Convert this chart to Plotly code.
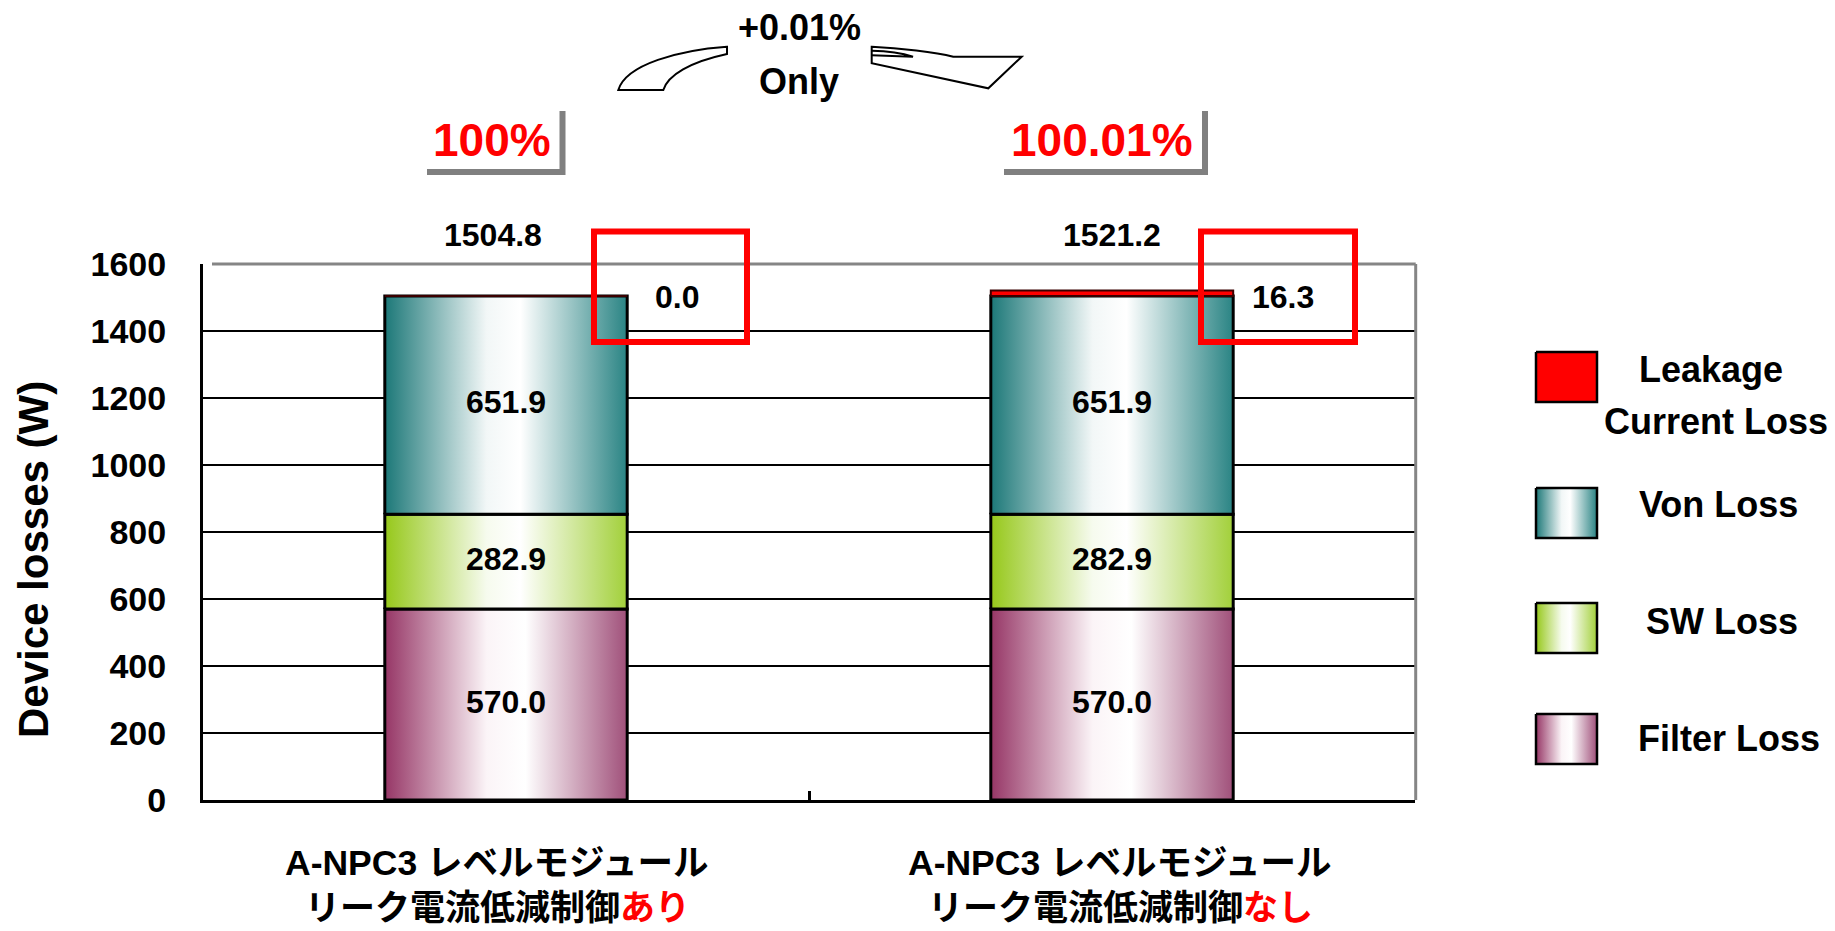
import plotly.graph_objects as go

# ---- data -------------------------------------------------------------
cat_line1 = ["A-NPC3 レベルモジュール", "A-NPC3 レベルモジュール"]
cat_line2 = ["リーク電流低減制御", "リーク電流低減制御"]
cat_flag = ["あり", "なし"]

filter_loss = [570.0, 570.0]
sw_loss = [282.9, 282.9]
von_loss = [651.9, 651.9]
leakage_loss = [0.0, 16.3]
total_labels = [1504.8, 1521.2]
ratio_labels = ["100%", "100.01%"]
diff_label = ["+0.01%", "Only"]

y_ticks = [0, 200, 400, 600, 800, 1000, 1200, 1400, 1600]

# ---- geometry / style -------------------------------------------------
W, H = 1835, 931
PL, PR, PT, PB = 203, 1415, 264, 800       # plot area in pixels
BAR_W = 0.4
FONT = "Liberation Sans, Arial, Noto Sans CJK JP, sans-serif"
RED = "#FF0000"

# horizontal nudges (pixels) of the text blocks above / below each bar
TOTAL_SHIFT = [-13, 0]
RATIO_SHIFT = [-14, -10]
CAT_SHIFT = [-9, 8]


def px(x):
    return x / W


def py(y):
    return 1 - y / H


def note(text, x, y, size, color="black", xref="paper", yref="paper", **kw):
    d = dict(x=x, y=y, xref=xref, yref=yref, text=text, showarrow=False,
             xanchor="center", yanchor="middle",
             font=dict(family=FONT, size=size, color=color))
    d.update(kw)
    return d


von_scale = [[0, "#1C7878"], [0.42, "#F2F7F7"], [0.56, "#FFFFFF"], [1, "#2A8484"]]
sw_scale = [[0, "#96C81A"], [0.42, "#F6FBEE"], [0.56, "#FFFFFF"], [1, "#A2D03A"]]
filter_scale = [[0, "#963666"], [0.42, "#FBF4F7"], [0.58, "#FFFFFF"], [1, "#A0507A"]]

series = [
    ("Filter Loss", filter_loss, filter_scale),
    ("SW Loss", sw_loss, sw_scale),
    ("Von Loss", von_loss, von_scale),
    ("Leakage Current Loss", leakage_loss, None),
]

fig = go.Figure()
annotations = []

# stacked segments drawn as gradient-filled rectangles on the data axes
base = [0.0] * len(filter_loss)
for name, vals, scale in series:
    for i, v in enumerate(vals):
        x0, x1 = i - BAR_W / 2, i + BAR_W / 2
        y0, y1 = base[i], base[i] + v
        tr = dict(
            x=[x0, x1, x1, x0, x0],
            y=[y0, y0, y1, y1, y0],
            mode="lines",
            fill="toself",
            name=name,
            showlegend=False,
            hoverinfo="skip",
        )
        if scale is None:
            tr["fillcolor"] = RED
            tr["line"] = dict(color="#3A0000", width=2)
        else:
            tr["fillgradient"] = dict(type="horizontal", colorscale=scale)
            tr["line"] = dict(color="black", width=3)
            annotations.append(note(f"<b>{v:.1f}</b>", i, (y0 + y1) / 2, 32,
                                    xref="x", yref="y", yshift=3))
        fig.add_trace(go.Scatter(**tr))
        base[i] = y1

# legend swatches on a small helper subplot (pixel units)
legend_items = [
    (["Leakage", "Current Loss"], None, 352, [(1711, 370), (1716, 421)]),
    (["Von Loss"], von_scale, 488, [(1718, 504)]),
    (["SW Loss"], sw_scale, 603, [(1722, 621)]),
    (["Filter Loss"], filter_scale, 714, [(1729, 738)]),
]
SW_X0, SW_X1, SW_H = 1536, 1597, 50
for lines, scale, top, pos in legend_items:
    tr = dict(
        x=[SW_X0, SW_X1, SW_X1, SW_X0, SW_X0],
        y=[top, top, top + SW_H, top + SW_H, top],
        mode="lines", fill="toself", showlegend=False, hoverinfo="skip",
        xaxis="x2", yaxis="y2", line=dict(color="black", width=2.5),
    )
    if scale is None:
        tr["fillcolor"] = RED
    else:
        tr["fillgradient"] = dict(type="horizontal", colorscale=scale)
    fig.add_trace(go.Scatter(**tr))
    for txt, (tx, ty) in zip(lines, pos):
        annotations.append(note(f"<b>{txt}</b>", px(tx), py(ty), 36))

# totals above the bars and the ratio labels
for i, t in enumerate(total_labels):
    annotations.append(note(f"<b>{t:.1f}</b>", i, py(235), 32, xref="x",
                            xshift=TOTAL_SHIFT[i]))
    annotations.append(note(f"<b>{ratio_labels[i]}</b>", i, py(140), 46,
                            color=RED, xref="x", xshift=RATIO_SHIFT[i]))

# leakage value labels beside the bar tops
for i, v in enumerate(leakage_loss):
    annotations.append(note(f"<b>{v:.1f}</b>", i, py(297), 32, xref="x",
                            xshift=171))

# category labels (two lines each)
for i in range(len(cat_line1)):
    annotations.append(note(f"<b>{cat_line1[i]}</b>", i, py(863), 35.5,
                            xref="x", xshift=CAT_SHIFT[i]))
    annotations.append(note(
        f"<b>{cat_line2[i]}<span style='color:{RED}'>{cat_flag[i]}</span></b>",
        i, py(907), 35, xref="x", xshift=CAT_SHIFT[i]))

# difference note between the two bars
for txt, ty in zip(diff_label, [27, 81]):
    annotations.append(note(f"<b>{txt}</b>", px(799), py(ty), 36))

# y-axis title
annotations.append(note("<b>Device losses (W)</b>", px(33), py(560), 42,
                        textangle=-90))


def path(cmds):
    out = []
    for c in cmds:
        if isinstance(c, str):
            out.append(c)
        else:
            out.append(f"{px(c[0]):.5f},{py(c[1]):.5f}")
    return " ".join(out)


shapes = []
# grey top and right frame
shapes.append(dict(type="line", xref="paper", yref="paper",
                   x0=px(PL + 9), x1=px(PR + 0.7), y0=py(PT), y1=py(PT),
                   line=dict(color="#858585", width=3)))
shapes.append(dict(type="line", xref="paper", yref="paper",
                   x0=px(PR + 0.7), x1=px(PR + 0.7), y0=py(PT), y1=py(PB),
                   line=dict(color="#858585", width=3)))

# red highlight boxes around the leakage values
for x0, x1 in [(594, 747), (1201, 1355)]:
    shapes.append(dict(type="rect", xref="paper", yref="paper",
                       x0=px(x0), x1=px(x1), y0=py(231.5), y1=py(342),
                       line=dict(color=RED, width=6)))

# grey shadow edges under the ratio labels
for x0, x1 in [(427, 562.5), (1004, 1205)]:
    shapes.append(dict(type="path", xref="paper", yref="paper",
                       path=path(["M", (x0, 172), "L", (x1, 172), "L", (x1, 111)]),
                       line=dict(color="#808080", width=6)))

# curved block arrows around the difference note
shapes.append(dict(type="path", xref="paper", yref="paper", fillcolor="white",
                   line=dict(color="black", width=2),
                   path=path(["M", (618.3, 90), "L", (663.3, 90),
                              "C", (668, 75), (690, 62), (727, 54),
                              "L", (727, 46.7),
                              "C", (680, 50), (626, 64), (618.3, 90), "Z"])))
shapes.append(dict(type="path", xref="paper", yref="paper", fillcolor="white",
                   line=dict(color="black", width=2),
                   path=path(["M", (871.7, 46.7),
                              "C", (900, 48), (935, 52), (953.3, 56.7),
                              "L", (1021.7, 56.7), "L", (988.3, 88.3),
                              "L", (871.7, 63.3), "Z"])))
shapes.append(dict(type="path", xref="paper", yref="paper",
                   line=dict(color="black", width=2),
                   path=path(["M", (871.7, 50.7),
                              "C", (890, 51), (905, 54), (913, 56.7),
                              "L", (871.7, 55.3)])))

fig.update_layout(
    template="none",
    width=W, height=H, autosize=False,
    margin=dict(l=0, r=0, t=0, b=0, pad=0, autoexpand=False),
    paper_bgcolor="white", plot_bgcolor="white",
    showlegend=False,
    xaxis=dict(
        domain=[px(PL), px(PR)], range=[-0.5, len(filter_loss) - 0.5],
        showgrid=False, zeroline=False, showline=True, automargin=False,
        linecolor="black", linewidth=3,
        tickvals=[0.5], ticktext=[""], ticks="inside", ticklen=9,
        tickwidth=3, tickcolor="black", fixedrange=True,
    ),
    yaxis=dict(
        domain=[py(PB), py(PT)], range=[0, 1600], automargin=False,
        tickvals=y_ticks, ticktext=[f"<b>{v}</b>" for v in y_ticks],
        showgrid=True, gridcolor="black", gridwidth=2,
        zeroline=False, showline=True, linecolor="black", linewidth=3,
        ticks="inside", ticklen=9, tickwidth=2, tickcolor="black",
        tickfont=dict(family=FONT, size=34, color="black"),
        ticklabelstandoff=27, fixedrange=True,
    ),
    xaxis2=dict(domain=[px(1520), px(1610)], range=[1520, 1610],
                visible=False, anchor="y2", fixedrange=True, automargin=False),
    yaxis2=dict(domain=[py(790), py(330)], range=[790, 330],
                visible=False, anchor="x2", fixedrange=True, automargin=False),
    annotations=annotations,
    shapes=shapes,
)

fig.write_html("out.html")
